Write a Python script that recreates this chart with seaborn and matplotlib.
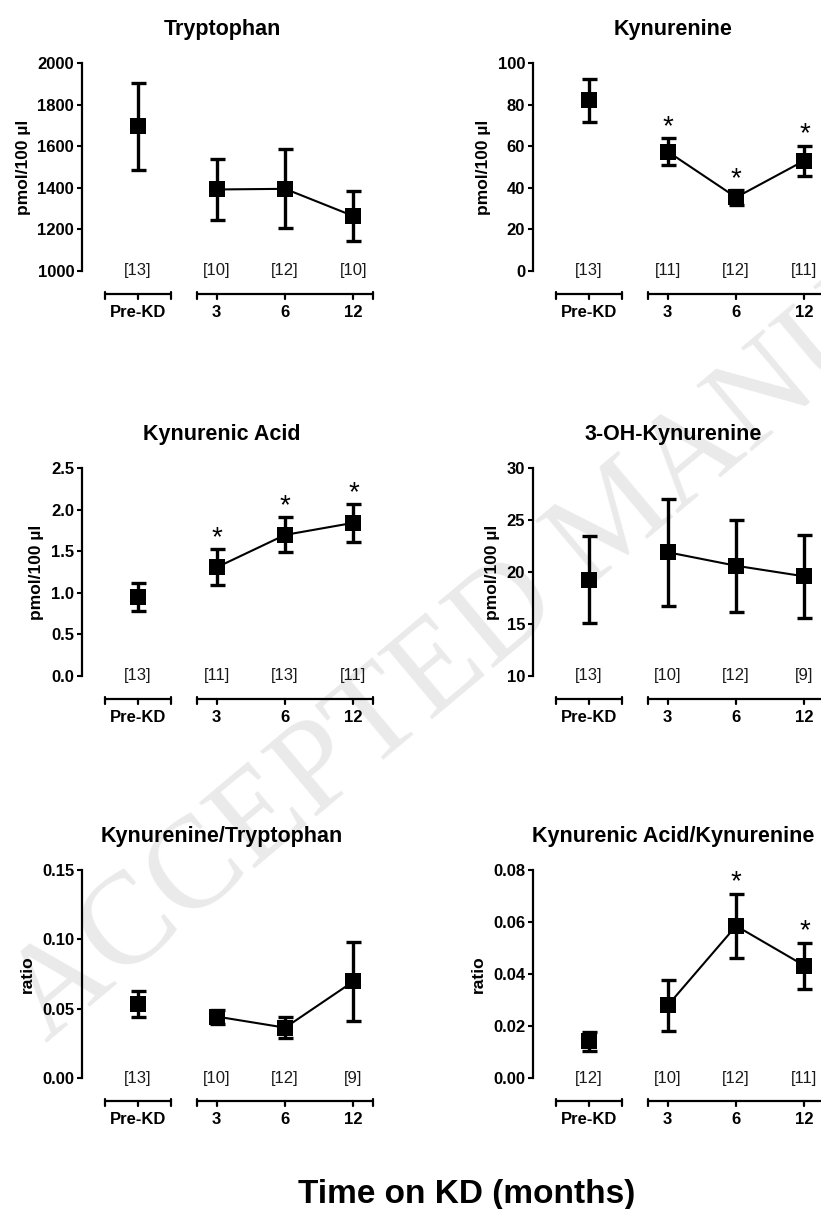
import numpy as np
import pandas as pd
import matplotlib
matplotlib.use("Agg")
import matplotlib.pyplot as plt
import seaborn as sns

# ---------------- data ----------------
categories = ["Pre-KD", "3", "6", "12"]

titles = ["Tryptophan", "Kynurenine", "Kynurenic Acid", "3-OH-Kynurenine",
          "Kynurenine/Tryptophan", "Kynurenic Acid/Kynurenine"]
ylabels = ["pmol/100 µl", "pmol/100 µl", "pmol/100 µl", "pmol/100 µl", "ratio", "ratio"]

trp_mean = [1695, 1392, 1395, 1264]
trp_err = [209, 146, 190, 122]
trp_n = [13, 10, 12, 10]
trp_sig = [False, False, False, False]
trp_ticks = [1000, 1200, 1400, 1600, 1800, 2000]

kyn_mean = [82.0, 57.4, 35.4, 53.1]
kyn_err = [10.2, 6.6, 3.5, 7.2]
kyn_n = [13, 11, 12, 11]
kyn_sig = [False, True, True, True]
kyn_ticks = [0, 20, 40, 60, 80, 100]

kyna_mean = [0.945, 1.306, 1.696, 1.841]
kyna_err = [0.167, 0.217, 0.210, 0.226]
kyna_n = [13, 11, 13, 11]
kyna_sig = [False, True, True, True]
kyna_ticks = [0.0, 0.5, 1.0, 1.5, 2.0, 2.5]

ohk_mean = [19.26, 21.9, 20.6, 19.58]
ohk_err = [4.2, 5.15, 4.4, 3.97]
ohk_n = [13, 10, 12, 9]
ohk_sig = [False, False, False, False]
ohk_ticks = [10, 15, 20, 25, 30]

kt_mean = [0.0532, 0.0443, 0.0363, 0.0697]
kt_err = [0.0093, 0.0050, 0.0075, 0.0283]
kt_n = [13, 10, 12, 9]
kt_sig = [False, False, False, False]
kt_ticks = [0.00, 0.05, 0.10, 0.15]

kak_mean = [0.0141, 0.0279, 0.0585, 0.0432]
kak_err = [0.0037, 0.0098, 0.0124, 0.0088]
kak_n = [12, 10, 12, 11]
kak_sig = [False, False, True, True]
kak_ticks = [0.00, 0.02, 0.04, 0.06, 0.08]

tick_fmt = ["{:.0f}", "{:.0f}", "{:.1f}", "{:.0f}", "{:.2f}", "{:.2f}"]

xlabel_text = "Time on KD (months)"
watermark_text = "ACCEPTED MANUSCRIPT"

# ---------------- style ----------------
sns.set_theme(style="ticks")
plt.rcParams['font.family'] = ['Liberation Sans', 'DejaVu Sans']
plt.rcParams['axes.linewidth'] = 1.6
plt.rcParams['text.color'] = 'black'
plt.rcParams['axes.labelcolor'] = 'black'
plt.rcParams['axes.titlecolor'] = 'black'
plt.rcParams['xtick.color'] = 'black'
plt.rcParams['ytick.color'] = 'black'
plt.rcParams['axes.edgecolor'] = 'black'

W, H = 821, 1209
fig = plt.figure(figsize=(W / 100, H / 100), dpi=100)

# watermark (behind everything)
fig.text(640 / W, 1 - 545 / H, watermark_text, fontsize=94, color="#eaeaea",
         family=["Liberation Serif", "DejaVu Serif"], rotation=40,
         rotation_mode="anchor", ha="center", va="baseline", zorder=-10)

x_pos = np.array([0.0, 1.15, 2.15, 3.15])
XLIM = (-0.82, 3.45)

panels = [
    (trp_mean, trp_err, trp_n, trp_sig, trp_ticks),
    (kyn_mean, kyn_err, kyn_n, kyn_sig, kyn_ticks),
    (kyna_mean, kyna_err, kyna_n, kyna_sig, kyna_ticks),
    (ohk_mean, ohk_err, ohk_n, ohk_sig, ohk_ticks),
    (kt_mean, kt_err, kt_n, kt_sig, kt_ticks),
    (kak_mean, kak_err, kak_n, kak_sig, kak_ticks),
]

lefts = [82, 533]
tops = [63, 468, 870]
AX_W, AX_H = 292, 208

for i, (mean, err, nn, sig, ticks) in enumerate(panels):
    r, c = divmod(i, 2)
    ax = fig.add_axes([lefts[c] / W, 1 - (tops[r] + AX_H) / H, AX_W / W, AX_H / H])
    ax.patch.set_alpha(0)
    df = pd.DataFrame({"cat": categories, "x": x_pos, "mean": mean, "err": err})

    ax.errorbar(df["x"], df["mean"], yerr=df["err"], fmt="none", ecolor="black",
                elinewidth=2.4, capsize=5.4, capthick=2.4, zorder=2)
    sns.lineplot(data=df.iloc[1:], x="x", y="mean", color="black", linewidth=1.5,
                 errorbar=None, ax=ax, zorder=3)
    sns.scatterplot(data=df, x="x", y="mean", marker="s", s=118, color="black",
                    linewidth=0, ax=ax, zorder=4)

    ymin, ymax = ticks[0], ticks[-1]
    ax.set_xlim(*XLIM)
    ax.set_ylim(ymin, ymax)
    ax.set_yticks(ticks)
    ax.set_yticklabels([tick_fmt[i].format(t) for t in ticks])
    ax.tick_params(axis="y", length=3.6, width=1.5, pad=2, labelsize=12, colors="black")
    for lab in ax.get_yticklabels():
        lab.set_fontweight("bold")
    ax.set_xticks(x_pos)
    ax.set_xticklabels(categories, fontweight="bold")
    ax.tick_params(axis="x", length=0, pad=24.5, labelsize=12, colors="black")
    ax.set_xlabel("")
    ax.set_ylabel(ylabels[i], fontsize=12.5, fontweight="bold", labelpad=5, color="black")
    ax.set_title(titles[i], fontsize=15.5, fontweight="bold", pad=20, x=0.48, color="black")
    for s in ["top", "right", "bottom"]:
        ax.spines[s].set_visible(False)
    ax.spines["left"].set_color("black")

    # n labels
    for xp, n in zip(x_pos, nn):
        ax.text(xp, ymin, f"[{n}]", ha="center", va="center", fontsize=12,
                color="#1a1a1a", clip_on=False)

    # significance
    for xp, m, e, s in zip(x_pos, mean, err, sig):
        if s:
            ax.annotate("*", xy=(xp, m + e), xytext=(0, 3), textcoords="offset points",
                        ha="center", va="baseline", fontsize=20, color="black")

    # segmented axis brackets
    trans = ax.get_xaxis_transform()
    px = 1.0 / AX_H
    yb = -23 * px
    segs = [(x_pos[0] - 0.48, x_pos[0] + 0.48), (x_pos[1] - 0.29, x_pos[-1] + 0.29)]
    for a, b in segs:
        ax.plot([a, b], [yb, yb], transform=trans, color="black", lw=1.6,
                clip_on=False, solid_capstyle="butt")
        for e_ in (a, b):
            ax.plot([e_, e_], [yb + 2 * px, yb - 5 * px], transform=trans, color="black",
                    lw=1.6, clip_on=False)
    for xp in x_pos:
        ax.plot([xp, xp], [yb, yb - 5 * px], transform=trans, color="black",
                lw=1.6, clip_on=False)

fig.text(467 / W, 1 - 1203 / H, xlabel_text, fontsize=24, fontweight="bold",
         ha="center", va="baseline", color="black")

fig.savefig("out.png", dpi=100)
